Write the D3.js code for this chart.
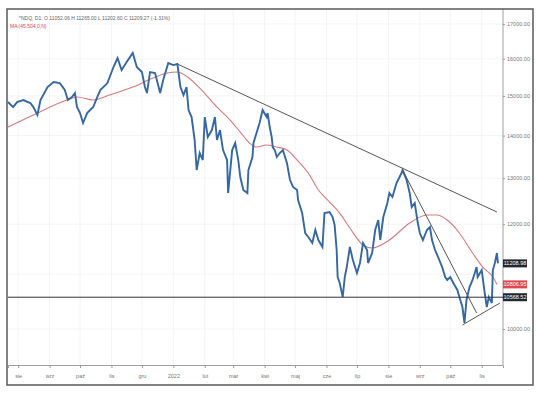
<!DOCTYPE html>
<html>
<head>
<meta charset="utf-8">
<script src="https://cdnjs.cloudflare.com/ajax/libs/d3/7.8.5/d3.min.js"></script>
<style>
  body { margin: 0; background: #fff; }
  svg { display: block; font-family: "Liberation Sans", Arial, sans-serif; }
</style>
</head>
<body>
<script>
// NDQ daily closes (approx.)
var dates = ["2021-07-22","2021-07-27","2021-07-31","2021-08-06","2021-08-13","2021-08-16","2021-08-20","2021-08-23","2021-08-30",
  "2021-09-05","2021-09-11","2021-09-16","2021-09-19","2021-09-23","2021-09-26","2021-09-28","2021-10-01","2021-10-04","2021-10-08",
  "2021-10-11","2021-10-14","2021-10-18","2021-10-21","2021-10-28","2021-11-03","2021-11-07","2021-11-11","2021-11-16","2021-11-22",
  "2021-11-26","2021-12-01","2021-12-04","2021-12-06","2021-12-09","2021-12-14","2021-12-19","2021-12-22","2021-12-27","2022-01-01",
  "2022-01-05","2022-01-08","2022-01-11","2022-01-14","2022-01-16","2022-01-19","2022-01-22","2022-01-24","2022-01-27","2022-01-30",
  "2022-02-01","2022-02-04","2022-02-08","2022-02-11","2022-02-13","2022-02-16","2022-02-19","2022-02-23","2022-02-24","2022-02-28",
  "2022-03-03","2022-03-06","2022-03-08","2022-03-11","2022-03-15","2022-03-16","2022-03-20","2022-03-21","2022-03-24","2022-03-27",
  "2022-03-30","2022-04-03","2022-04-04","2022-04-06","2022-04-08","2022-04-09","2022-04-11","2022-04-13","2022-04-16","2022-04-19",
  "2022-04-23","2022-04-26","2022-04-29","2022-05-03","2022-05-04","2022-05-08","2022-05-11","2022-05-14","2022-05-18","2022-05-21",
  "2022-05-24","2022-05-28","2022-05-30","2022-06-04","2022-06-07","2022-06-09","2022-06-11","2022-06-12","2022-06-14","2022-06-17",
  "2022-06-19","2022-06-21","2022-06-24","2022-06-27","2022-07-01","2022-07-04","2022-07-07","2022-07-11","2022-07-12","2022-07-16",
  "2022-07-19","2022-07-22","2022-07-24","2022-07-27","2022-07-31","2022-08-02","2022-08-05","2022-08-09","2022-08-14","2022-08-15",
  "2022-08-19","2022-08-22","2022-08-24","2022-08-27","2022-08-30","2022-09-01","2022-09-04","2022-09-08","2022-09-11","2022-09-13",
  "2022-09-16","2022-09-19","2022-09-23","2022-09-26","2022-09-28","2022-10-01","2022-10-04","2022-10-08","2022-10-10","2022-10-13",
  "2022-10-15","2022-10-17","2022-10-20","2022-10-23","2022-10-27","2022-10-28","2022-11-01","2022-11-04","2022-11-06","2022-11-08",
  "2022-11-11","2022-11-12","2022-11-14","2022-11-16","2022-11-17"];
var closes = [14841,14712,14841,14893,14815,14712,14510,14893,15233,
  15367,15339,15154,14893,14970,15075,14712,14560,14309,14560,
  14636,14712,14970,15154,15339,15773,16021,15690,15910,16161,
  15773,15636,15233,15075,15636,15608,15075,15420,15882,15827,
  15855,15233,15023,15233,14636,14458,13892,13185,13581,13417,
  14458,13964,14135,14458,13892,14135,13652,13417,12668,13652,
  13820,13417,13026,12735,12668,13185,13487,13820,14062,14309,
  14636,14458,14560,14209,13964,13723,13652,13487,13581,13652,
  13347,12958,12802,12735,12515,12235,11817,11735,11613,11879,
  11674,11533,12235,12257,12150,11983,11473,10946,10833,10572,
  10946,11138,11533,11275,11023,11216,11613,11473,11216,11413,
  11879,12087,11674,12150,12450,12668,12581,12891,13117,13185,
  12958,12668,12364,12450,12024,11817,11674,11879,11941,11674,
  11473,11334,11138,10946,10890,10946,10833,10702,10572,10390,
  10105,10517,10758,10890,11138,10946,11080,10646,10390,10572,
  10463,11080,11216,11413,11209];

// moving average
var maDates = ["2021-07-22","2021-08-16","2021-09-18","2021-09-28","2021-10-14","2021-10-30","2021-11-22","2021-12-12","2021-12-26",
  "2022-01-05","2022-01-15","2022-01-27","2022-02-13","2022-02-26","2022-03-08","2022-03-17","2022-03-24","2022-04-03","2022-04-13",
  "2022-04-23","2022-05-03","2022-05-14","2022-05-24","2022-06-04","2022-06-14","2022-06-24","2022-07-07","2022-07-16","2022-08-02",
  "2022-08-22","2022-09-08","2022-09-18","2022-09-28","2022-10-10","2022-10-23","2022-11-02","2022-11-12","2022-11-16"];
var maValues = [14209,14510,14893,14970,14893,15023,15233,15473,15608,
  15636,15500,15206,14712,14383,14086,13820,13723,13771,13723,
  13652,13417,13117,12735,12472,12235,11920,11573,11513,11674,
  12024,12193,12193,12087,11817,11413,11138,10946,10807];

// drawn lines: [start date, start value, end date, end value]
var resistanceLine = ["2022-01-05", 15855, "2022-11-16", 12257];
var channelLine = ["2022-08-15", 13185, "2022-10-27", 10282];
var supportLine = ["2022-10-13", 10070, "2022-11-19", 10463];
var horizontalLevel = 10568.52;

var monthTicks = ["2021-08-01","2021-09-01","2021-10-01","2021-11-01","2021-12-01","2022-01-01","2022-02-01","2022-03-01",
  "2022-04-01","2022-05-01","2022-06-01","2022-07-01","2022-08-01","2022-09-01","2022-10-01","2022-11-01"];
var monthLabels = ["sie","wrz","paź","lis","gru","2022","lut","mar","kwi","maj","cze","lip","sie","wrz","paź","lis"];
var priceTicks = [10000, 12000, 13000, 14000, 15000, 16000, 17000];

var lastClose = 11208.98, lastMa = 10806.95;

var W = 536, H = 397;
var mLeft = 8, mTop = 9, mRight = 503, mBottom = 365;
var parse = d3.timeParse("%Y-%m-%d");

var svg = d3.select("body").append("svg")
  .attr("width", W).attr("height", H);

svg.append("rect").attr("width", W).attr("height", H).attr("fill", "#fff");

var x = d3.scaleTime()
  .domain([parse("2021-07-22"), parse("2022-11-22")])
  .range([mLeft, mRight]);
var y = d3.scaleLog()
  .domain([9393, 17448])
  .range([mBottom, mTop]);

// grid
svg.append("g").selectAll("line").data(monthTicks).enter().append("line")
  .attr("x1", d => x(parse(d))).attr("x2", d => x(parse(d)))
  .attr("y1", mTop).attr("y2", mBottom)
  .attr("stroke", "#f3f4f7").attr("stroke-width", 1);
svg.append("g").selectAll("line").data(priceTicks.concat([11000])).enter().append("line")
  .attr("x1", mLeft).attr("x2", mRight)
  .attr("y1", d => y(d)).attr("y2", d => y(d))
  .attr("stroke", "#f3f4f7").attr("stroke-width", 1);

// x axis
var xAxis = d3.axisBottom(x)
  .tickValues(monthTicks.map(parse))
  .tickFormat((d, i) => monthLabels[i])
  .tickSize(3).tickPadding(6);
var gx = svg.append("g")
  .attr("transform", "translate(0," + mBottom + ")")
  .call(xAxis);
gx.select(".domain").attr("stroke", "#a0a0a0");
gx.selectAll(".tick line").attr("stroke", "#999");
gx.selectAll("text").attr("font-size", 5.5).attr("fill", "#777").attr("font-family", "Liberation Sans, Arial, sans-serif");

// y axis
var yAxis = d3.axisRight(y)
  .tickValues(priceTicks)
  .tickFormat(d3.format(".2f"))
  .tickSize(2).tickPadding(2);
var gy = svg.append("g")
  .attr("transform", "translate(" + mRight + ",0)")
  .call(yAxis);
gy.select(".domain").attr("stroke", "#a0a0a0").attr("d", "M0," + mTop + "V" + mBottom);
gy.selectAll(".tick line").attr("stroke", "#999");
gy.selectAll("text").attr("font-size", 5.5).attr("fill", "#777").attr("font-family", "Liberation Sans, Arial, sans-serif");

var plot = svg.append("g");

// moving average
var maLine = d3.line().x(d => x(parse(d[0]))).y(d => y(d[1])).curve(d3.curveMonotoneX);
plot.append("path")
  .datum(maDates.map((d, i) => [d, maValues[i]]))
  .attr("d", maLine)
  .attr("fill", "none").attr("stroke", "#d9797c").attr("stroke-width", 1.1);

// price
var priceLine = d3.line().x(d => x(parse(d[0]))).y(d => y(d[1]));
plot.append("path")
  .datum(dates.map((d, i) => [d, closes[i]]))
  .attr("d", priceLine)
  .attr("fill", "none").attr("stroke", "#3467a3").attr("stroke-width", 1.9)
  .attr("stroke-linejoin", "miter");

// horizontal level
plot.append("line")
  .attr("x1", mLeft).attr("x2", mRight)
  .attr("y1", y(horizontalLevel)).attr("y2", y(horizontalLevel))
  .attr("stroke", "#333").attr("stroke-width", 1);

// trend lines
[resistanceLine, channelLine, supportLine].forEach(function(t) {
  plot.append("line")
    .attr("x1", x(parse(t[0]))).attr("y1", y(t[1]))
    .attr("x2", x(parse(t[2]))).attr("y2", y(t[3]))
    .attr("stroke", "#555").attr("stroke-width", 1);
});

// price tags on the scale
function tag(v, fill) {
  var g = svg.append("g").attr("transform", "translate(" + mRight + "," + y(v) + ")");
  g.append("rect").attr("x", 0).attr("y", -4).attr("width", 24).attr("height", 8).attr("fill", fill);
  g.append("text").attr("x", 12).attr("y", 2).attr("text-anchor", "middle")
    .attr("font-size", 5.5).attr("fill", "#fff").text(d3.format(".2f")(v));
}
tag(lastClose, "#23272f");
tag(lastMa, "#e0474c");
tag(horizontalLevel, "#23272f");

// header
svg.append("text").attr("x", 19).attr("y", 20).attr("font-size", 5).attr("fill", "#666")
  .text("*NDQ, D1: O 11052.06 H 11265.00 L 11202.60 C 11209.27 (-1.31%)");
svg.append("text").attr("x", 10).attr("y", 28).attr("font-size", 5).attr("fill", "#d9474c")
  .text("MA (45,504,0,N)");

// frame
svg.append("rect")
  .attr("x", 7).attr("y", 9).attr("width", 526).attr("height", 376)
  .attr("fill", "none").attr("stroke", "#5a5a5a").attr("stroke-width", 1.5);
</script>
</body>
</html>
